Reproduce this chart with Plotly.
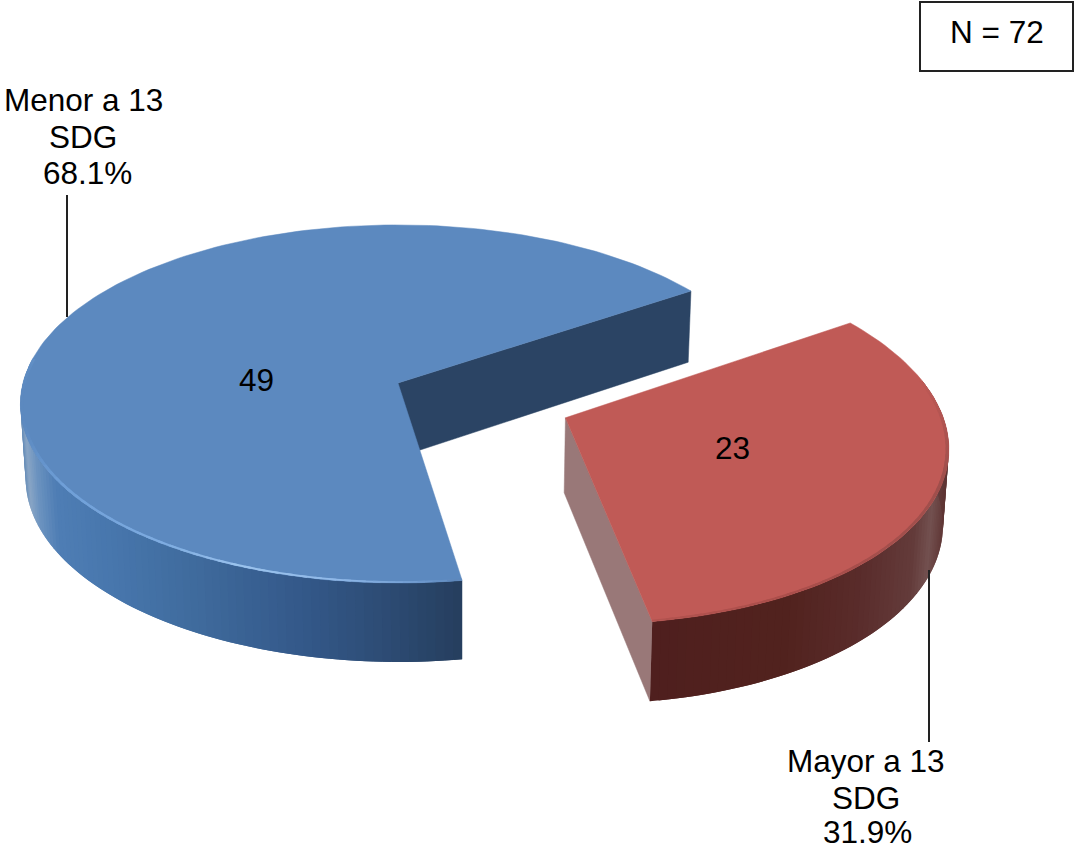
import math
import plotly.graph_objects as go

# ---- data ----
categories = ["Menor a 13 SDG", "Mayor a 13 SDG"]
counts = [49, 23]
percent_labels = ["68.1%", "31.9%"]
count_text = ["49", "23"]
total_label = "N = 72"

# ---- styles / projection ----
FONT = "Liberation Sans, Arial, sans-serif"
FS = 31.5
X0, Y0, A, B, K = 398, 383, 375, 176.6, 0.117
START = 33.7
EXPLODE = 0.477
RADIUS = [1.0, 0.985]
TOP = ["#5c89bf", "#c05a56"]
INNER = ["#2b4464", "#997878"]
WALL = [
    [(20, "#5d86b4"), (26, "#8aa6c6"), (36, "#6c93c0"), (55, "#4f7eb5"), (110, "#4877ad"), (200, "#3f6a9c"),
     (300, "#34598a"), (380, "#2e4d76"), (460, "#263f5f")],
    [(640, "#4f1f1e"), (790, "#52231f"), (860, "#5a2c2b"), (915, "#643c3b"), (932, "#735150"), (950, "#5d3332")],
]
RIM = [
    [(20, "#5c89bf"), (60, "#6f9fd8"), (170, "#80aee2"), (240, "#9cc4ee"), (340, "#8fb8e8"), (420, "#6f9ad0"), (460, "#5c86ba")],
    [(640, "#b45450"), (800, "#aa4e4b"), (950, "#a0504d")],
]


def hex_rgb(c):
    return tuple(int(c[i:i + 2], 16) for i in (1, 3, 5))


def ramp(stops, x):
    if x <= stops[0][0]:
        return hex_rgb(stops[0][1])
    for (x1, c1), (x2, c2) in zip(stops, stops[1:]):
        if x <= x2:
            t = (x - x1) / (x2 - x1)
            a, b = hex_rgb(c1), hex_rgb(c2)
            return tuple(a[i] + (b[i] - a[i]) * t for i in range(3))
    return hex_rgb(stops[-1][1])


def css(c):
    return "rgb(%d,%d,%d)" % tuple(c)


def project(u, v, z=0.0):
    w = 1 - K * v
    x = X0 + A * u / w
    y = Y0 + B * v / w + z * (74 + 5 * v)
    x -= z * 0.012 * (x - 460)
    return x, y


fig = go.Figure()


def poly(pts, color, lw=0.0):
    fig.add_trace(go.Scatter(
        x=[p[0] for p in pts] + [pts[0][0]], y=[p[1] for p in pts] + [pts[0][1]],
        mode="lines", fill="toself", fillcolor=color,
        line=dict(color=color, width=lw), hoverinfo="skip", showlegend=False))


total = sum(counts)
angle = START
for i, val in enumerate(counts):
    sweep = 360 * val / total
    a0, a1 = angle, angle + sweep
    angle = a1
    mid = math.radians((a0 + a1) / 2)
    du, dv = (0.0, 0.0) if i == 0 else (EXPLODE * math.cos(mid), -EXPLODE * math.sin(mid))
    R = RADIUS[i]

    def pt(theta, r=1.0, z=0.0):
        t = math.radians(theta)
        return project(du + R * r * math.cos(t), dv - R * r * math.sin(t), z)

    # flat cut face
    poly([pt(a0, 0), pt(a0), pt(a0, 1, 1), pt(a0, 0, 1)], INNER[i], 0.5)

    # outer wall strips (each overlaps the next, so no seams)
    lo, hi = (172, a1) if i == 0 else (a0, 372)
    n = int((hi - lo) / 1.2)
    step = (hi - lo) / n
    for s in range(n):
        t0 = lo + step * s
        t1 = min(t0 + step * 2, hi)
        xm = (pt(t0)[0] + pt(t0 + step)[0]) / 2
        poly([pt(t0), pt(t1), pt(t1, 1, 1), pt(t0, 1, 1)], css(ramp(WALL[i], xm)))

    # top face
    n = int(sweep / 1.5)
    arc = [pt(a0 + sweep * s / n) for s in range(n + 1)]
    poly([pt(a0, 0)] + arc, TOP[i], 0.5)

    # bevel rim, fading into the top colour toward the back
    rlo, rhi = (172, a1) if i == 0 else (a0, 372)
    n = int((rhi - rlo) / 2)
    step = (rhi - rlo) / n
    for s in range(n):
        t0 = rlo + step * s
        t1 = min(t0 + step * 1.5, rhi)
        xm = (pt(t0)[0] + pt(t0 + step)[0]) / 2
        col = ramp(RIM[i], xm)
        if i == 1:
            f = max(0.0, min(1.0, (372 - t0) / 30))
            base = hex_rgb(TOP[i])
            col = tuple(base[k] + (col[k] - base[k]) * f for k in range(3))
        poly([pt(t0, 0.992), pt(t1, 0.992), pt(t1, 1.0), pt(t0, 1.0)], css(col))

# leader lines
for lx, ly in [((67, 67), (195, 317)), ((929, 929), (570, 742))]:
    fig.add_trace(go.Scatter(x=lx, y=ly, mode="lines", line=dict(color="#222222", width=2),
                             hoverinfo="skip", showlegend=False))


def text(x, y, s):
    fig.add_annotation(x=x, y=y, text=s, showarrow=False, xanchor="center", yanchor="middle",
                       font=dict(family=FONT, size=FS, color="#000000"))


for (cxs, ys), cat, pct in zip([((83, 83, 87), (100, 137, 173)), ((866, 866, 867), (761, 798, 832))],
                               categories, percent_labels):
    head, tail = cat.rsplit(" ", 1)
    for x, y, s in zip(cxs, ys, (head, tail, pct)):
        text(x, y, s)
text(256, 380, count_text[0])
text(732, 448, count_text[1])

fig.add_shape(type="rect", x0=920, x1=1073, y0=2, y1=71, line=dict(color="#222222", width=2), fillcolor="white", layer="below")
text(997, 32, total_label)

fig.update_layout(
    width=1075, height=850, margin=dict(l=0, r=0, t=0, b=0),
    paper_bgcolor="white", plot_bgcolor="white", showlegend=False,
    xaxis=dict(range=[0, 1075], visible=False, fixedrange=True),
    yaxis=dict(range=[850, 0], visible=False, fixedrange=True),
)
fig.write_html("out.html", config={"displayModeBar": False},
               post_script="document.body.style.margin='0';document.body.style.overflow='hidden';")
